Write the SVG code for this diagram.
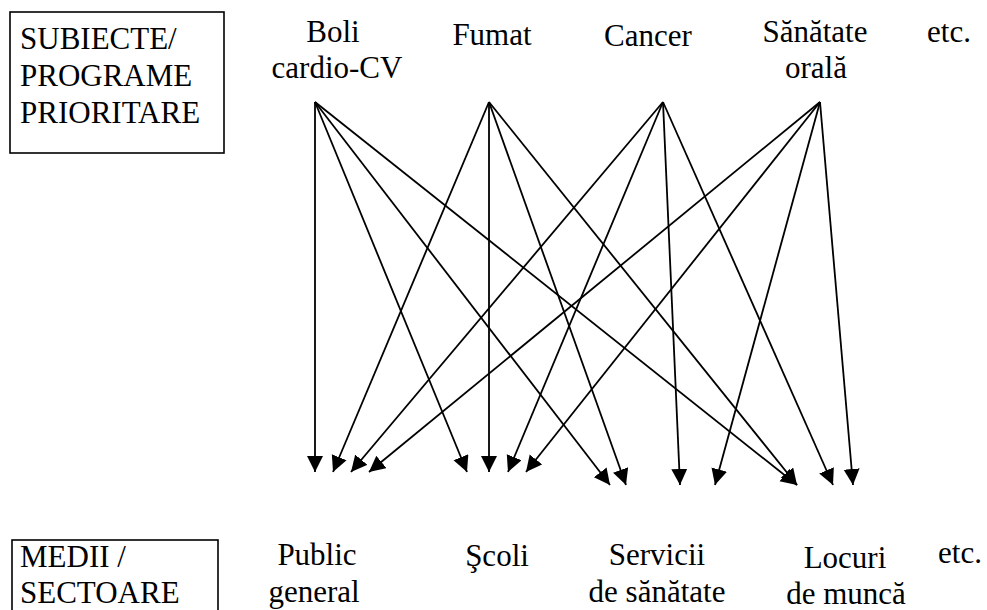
<svg xmlns="http://www.w3.org/2000/svg" width="987" height="610" viewBox="0 0 987 610">
  <defs>
    <marker id="head" markerUnits="userSpaceOnUse" markerWidth="18" markerHeight="17" refX="16" refY="8" orient="auto">
      <path d="M0,0 L16,8 L0,16 z" fill="#000"/>
    </marker>
  </defs>

  <rect width="987" height="610" fill="#fff"/>

  <!-- category headers -->
  <g id="hdr-subiecte" font-family="Liberation Serif, serif" font-size="31">
    <rect x="10" y="12" width="214" height="141" fill="none" stroke="#000" stroke-width="1.6"/>
    <text x="20" y="49">SUBIECTE/</text>
    <text x="20" y="86">PROGRAME</text>
    <text x="20" y="123">PRIORITARE</text>
  </g>
  <g id="hdr-medii" font-family="Liberation Serif, serif" font-size="31">
    <rect x="12" y="540" width="206" height="80" fill="none" stroke="#000" stroke-width="1.6"/>
    <text x="20" y="567">MEDII /</text>
    <text x="20" y="603">SECTOARE</text>
  </g>

  <!-- priority topics -->
  <g id="t-boli" font-family="Liberation Serif, serif" font-size="31" text-anchor="middle">
    <text x="333" y="42">Boli</text>
    <text x="337" y="78">cardio-CV</text>
  </g>
  <g id="t-fumat" font-family="Liberation Serif, serif" font-size="31" text-anchor="middle">
    <text x="492" y="45">Fumat</text>
  </g>
  <g id="t-cancer" font-family="Liberation Serif, serif" font-size="31" text-anchor="middle">
    <text x="648" y="46">Cancer</text>
  </g>
  <g id="t-oral" font-family="Liberation Serif, serif" font-size="31" text-anchor="middle">
    <text x="815" y="42">Sănătate</text>
    <text x="816" y="78">orală</text>
  </g>
  <g id="t-etc" font-family="Liberation Serif, serif" font-size="31" text-anchor="middle">
    <text x="949" y="42">etc.</text>
  </g>

  <!-- settings / sectors -->
  <g id="s-public" font-family="Liberation Serif, serif" font-size="31" text-anchor="middle">
    <text x="317" y="565">Public</text>
    <text x="314" y="602">general</text>
  </g>
  <g id="s-scoli" font-family="Liberation Serif, serif" font-size="31" text-anchor="middle">
    <text x="497" y="566">Şcoli</text>
  </g>
  <g id="s-servicii" font-family="Liberation Serif, serif" font-size="31" text-anchor="middle">
    <text x="657" y="565">Servicii</text>
    <text x="657" y="602">de sănătate</text>
  </g>
  <g id="s-locuri" font-family="Liberation Serif, serif" font-size="31" text-anchor="middle">
    <text x="845" y="568">Locuri</text>
    <text x="846" y="604">de muncă</text>
  </g>
  <g id="s-etc" font-family="Liberation Serif, serif" font-size="31" text-anchor="middle">
    <text x="960" y="563">etc.</text>
  </g>

  <!-- connectors: every topic to every setting -->
  <g id="connectors" stroke="#000" stroke-width="1.8" fill="none" marker-end="url(#head)">
    <!-- Boli cardio-CV -->
    <line x1="315" y1="102" x2="315" y2="472"/>
    <line x1="315" y1="102" x2="467" y2="472"/>
    <line x1="315" y1="102" x2="610" y2="485"/>
    <line x1="315" y1="102" x2="797" y2="485"/>
    <!-- Fumat -->
    <line x1="489" y1="102" x2="333" y2="472"/>
    <line x1="489" y1="102" x2="489" y2="472"/>
    <line x1="489" y1="102" x2="626" y2="485"/>
    <line x1="489" y1="102" x2="797" y2="485"/>
    <!-- Cancer -->
    <line x1="663" y1="102" x2="351" y2="472"/>
    <line x1="663" y1="102" x2="508" y2="472"/>
    <line x1="663" y1="102" x2="680" y2="485"/>
    <line x1="663" y1="102" x2="833" y2="485"/>
    <!-- Sanatate orala -->
    <line x1="820" y1="102" x2="369" y2="472"/>
    <line x1="820" y1="102" x2="526" y2="472"/>
    <line x1="820" y1="102" x2="715" y2="485"/>
    <line x1="820" y1="102" x2="853" y2="485"/>
  </g>
</svg>
